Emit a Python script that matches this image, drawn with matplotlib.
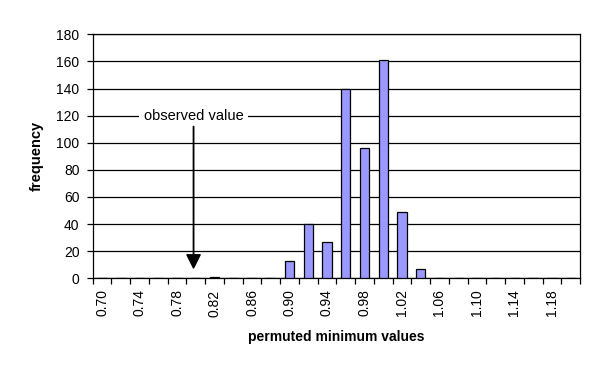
import matplotlib.pyplot as plt
import numpy as np

plt.rcParams['font.family'] = ['Liberation Sans', 'DejaVu Sans']

# permuted minimum values (category labels) and their counts
categories = ['0.70', '0.72', '0.74', '0.76', '0.78', '0.80', '0.82', '0.84',
              '0.86', '0.88', '0.90', '0.92', '0.94', '0.96', '0.98', '1.00',
              '1.02', '1.04', '1.06', '1.08', '1.10', '1.12', '1.14', '1.16',
              '1.18', '1.20']
freq = [0, 0, 0, 0, 0, 0, 1, 0,
        0, 0, 13, 40, 27, 140, 96, 161,
        49, 7, 0, 0, 0, 0, 0, 0,
        0, 0]
observed = 0.7976
yticks = [0, 20, 40, 60, 80, 100, 120, 140, 160, 180]

fig = plt.figure(figsize=(6, 3.74), dpi=100)
ax = fig.add_axes([0.1545, 0.2559, 0.8122, 0.6524])

x = np.arange(len(categories))
ax.bar(x, freq, width=0.5, color='#9999ff', edgecolor='black', linewidth=0.9, zorder=3)

ax.set_xlim(-0.5, len(categories) - 0.5)
ax.set_ylim(0, 180)
ax.set_yticks(yticks)
ax.yaxis.grid(True, color='black', linewidth=0.9, zorder=0)
for s in ax.spines.values():
    s.set_color('black')
    s.set_linewidth(0.9)

ax.set_xticks(x[::2])
ax.set_xticklabels(categories[::2], rotation=90, fontsize=10)
ax.set_xticks(np.arange(len(categories) + 1) - 0.5, minor=True)
ax.tick_params(axis='x', which='major', length=0, pad=8)
ax.tick_params(axis='x', which='minor', length=4.5, width=0.9, direction='out')
ax.tick_params(axis='y', length=4.5, width=0.9, direction='out', labelsize=10, pad=5)

ax.set_xlabel('permuted minimum values', fontsize=10, fontweight='bold', labelpad=10)
ax.set_ylabel('frequency', fontsize=10.5, fontweight='bold', labelpad=9)

# observed value marker
x_obs = (observed - float(categories[0])) / (float(categories[1]) - float(categories[0]))
ax.text(x_obs, 120, 'observed value', fontsize=10.5, ha='center', va='center', zorder=5,
        bbox=dict(facecolor='white', edgecolor='none', pad=3))
ax.annotate('', xy=(x_obs, 7.6), xytext=(x_obs, 112), zorder=5,
            arrowprops=dict(facecolor='black', edgecolor='black', width=0.3,
                            headwidth=9.5, headlength=9.5, shrink=0))

fig.savefig('out.png', dpi=100)
